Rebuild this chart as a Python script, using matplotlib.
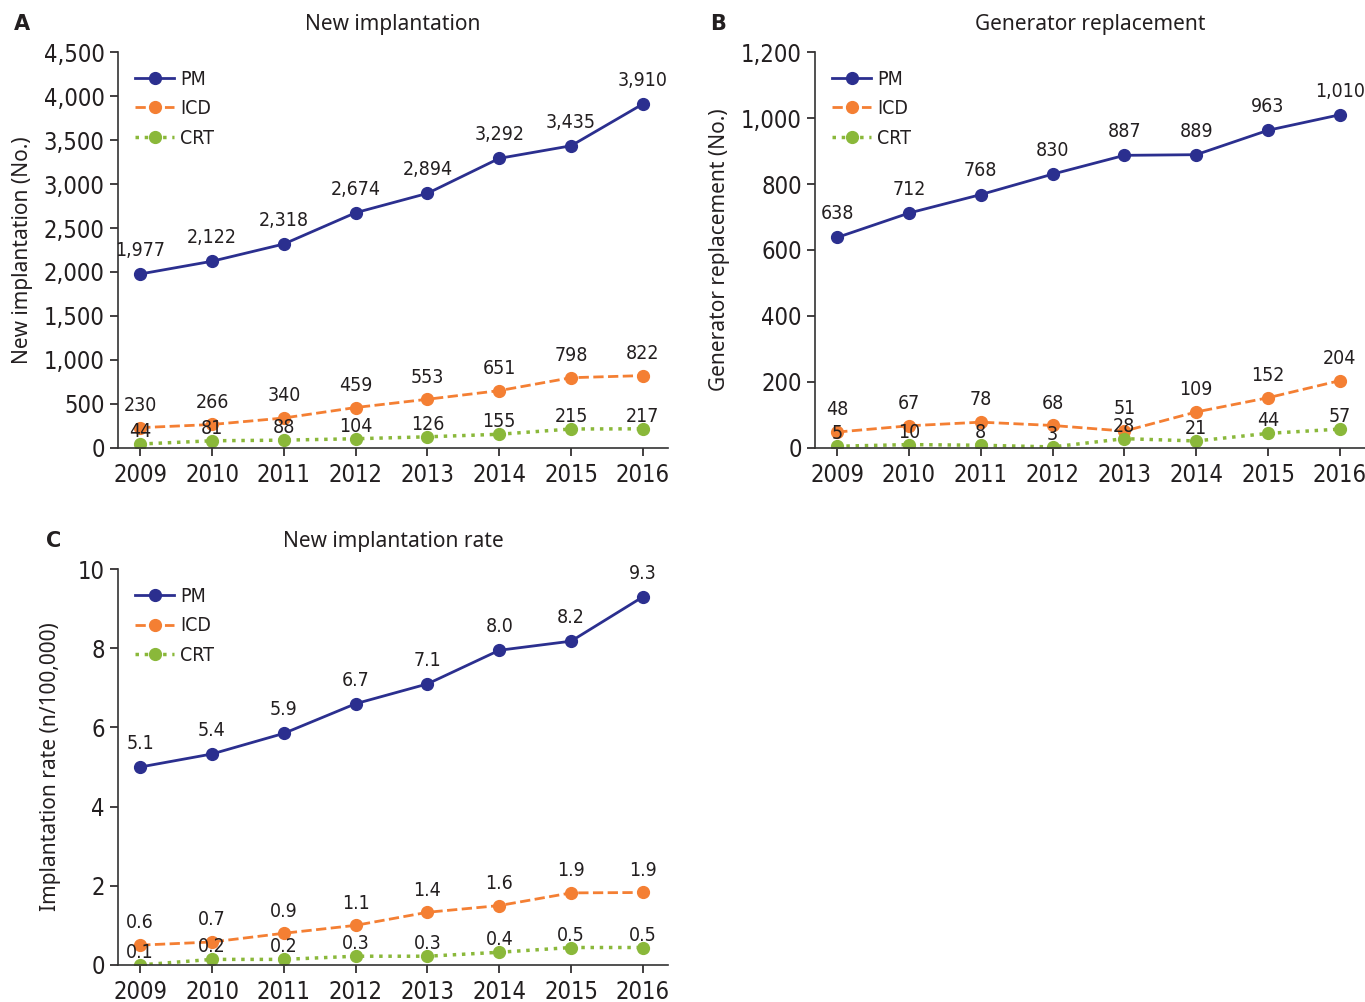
import matplotlib
matplotlib.use("Agg")
import matplotlib.pyplot as plt

# datos
years = [2009, 2010, 2011, 2012, 2013, 2014, 2015, 2016]

new_pm = [1977, 2122, 2318, 2674, 2894, 3292, 3435, 3910]
new_icd = [230, 266, 340, 459, 553, 651, 798, 822]
new_crt = [44, 81, 88, 104, 126, 155, 215, 217]

gen_pm = [638, 712, 768, 830, 887, 889, 963, 1010]
gen_icd = [48, 67, 78, 68, 51, 109, 152, 204]
gen_crt = [5, 10, 8, 3, 28, 21, 44, 57]

rate_pm = [5.0, 5.33, 5.85, 6.6, 7.1, 7.95, 8.18, 9.3]
rate_icd = [0.5, 0.58, 0.8, 1.0, 1.33, 1.5, 1.82, 1.83]
rate_crt = [0.0, 0.14, 0.14, 0.22, 0.22, 0.32, 0.44, 0.44]
rate_pm_lbl = ["5.1", "5.4", "5.9", "6.7", "7.1", "8.0", "8.2", "9.3"]
rate_icd_lbl = ["0.6", "0.7", "0.9", "1.1", "1.4", "1.6", "1.9", "1.9"]
rate_crt_lbl = ["0.1", "0.2", "0.2", "0.3", "0.3", "0.4", "0.5", "0.5"]

c_pm = "#2b2f8f"
c_icd = "#f47f33"
c_crt = "#8ab83a"
txt = "#231f20"
narrow = dict(family="DejaVu Sans", stretch="condensed")
normal = dict(family=["Noto Sans", "DejaVu Sans"])

fig = plt.figure(figsize=(13.65, 10.02), dpi=100)
axA = fig.add_axes([0.0864, 0.553, 0.403, 0.395])
axB = fig.add_axes([0.597, 0.553, 0.403, 0.395])
axC = fig.add_axes([0.0864, 0.037, 0.403, 0.395])


def panel(ax, pm, icd, crt, labels, ylim, yticks, ytl, ylabel, title, letter, lx, lpad):
    ax.plot(years, pm, "-", color=c_pm, lw=2, marker="o", ms=8.5, label="PM")
    ax.plot(years, icd, "--", color=c_icd, lw=2, marker="o", ms=8.5, label="ICD")
    ax.plot(years, crt, ":", color=c_crt, lw=2.5, marker="o", ms=8.5, label="CRT")
    # etiquetas de valores arriba de cada punto
    for vals, lbls, off in zip([pm, icd, crt], labels, [17, 16, 9]):
        for x, y, s in zip(years, vals, lbls):
            ax.annotate(s, (x, y), xytext=(0, off), textcoords="offset points",
                        ha="center", va="center", fontsize=14, color=txt,
                        **narrow)
    ax.set_xlim(2008.69, 2016.35)
    ax.set_ylim(*ylim)
    ax.set_yticks(yticks)
    ax.set_yticklabels(ytl, **narrow)
    ax.set_xticks(years)
    ax.set_xticklabels([str(y) for y in years], **narrow)
    ax.tick_params(labelsize=17, colors=txt, length=6, width=1.2)
    ax.tick_params(axis="x", pad=5)
    for s in ["top", "right"]:
        ax.spines[s].set_visible(False)
    for s in ["left", "bottom"]:
        ax.spines[s].set_color("#333333")
        ax.spines[s].set_linewidth(1.2)
    ax.set_ylabel(ylabel, fontsize=15, color=txt, labelpad=lpad, **normal)
    ax.set_title(title, fontsize=15, color=txt, pad=16, **normal)
    ax.text(lx, 1.07, letter, transform=ax.transAxes, fontsize=15,
            fontweight="bold", color=txt, va="center", ha="left")
    leg = ax.legend(loc="upper left", bbox_to_anchor=(0.0, 1.0), frameon=False,
                    fontsize=14, handlelength=2.0, labelspacing=0.55,
                    handletextpad=0.3)
    for t in leg.get_texts():
        t.set_color(txt)
        t.set_fontstretch("condensed")


panel(axA, new_pm, new_icd, new_crt,
      [[f"{v:,}" for v in new_pm], [f"{v:,}" for v in new_icd], [f"{v:,}" for v in new_crt]],
      (0, 4500), range(0, 4501, 500), [f"{v:,}" for v in range(0, 4501, 500)],
      "New implantation (No.)", "New implantation", "A", -0.19, 8)
panel(axB, gen_pm, gen_icd, gen_crt,
      [[f"{v:,}" for v in gen_pm], [f"{v:,}" for v in gen_icd], [f"{v:,}" for v in gen_crt]],
      (0, 1200), range(0, 1201, 200), [f"{v:,}" for v in range(0, 1201, 200)],
      "Generator replacement (No.)", "Generator replacement", "B", -0.19, 8)
panel(axC, rate_pm, rate_icd, rate_crt,
      [rate_pm_lbl, rate_icd_lbl, rate_crt_lbl],
      (0, 10), range(0, 11, 2), [str(v) for v in range(0, 11, 2)],
      "Implantation rate (n/100,000)", "New implantation rate", "C", -0.13, 12)

fig.savefig("out.png", dpi=100)
